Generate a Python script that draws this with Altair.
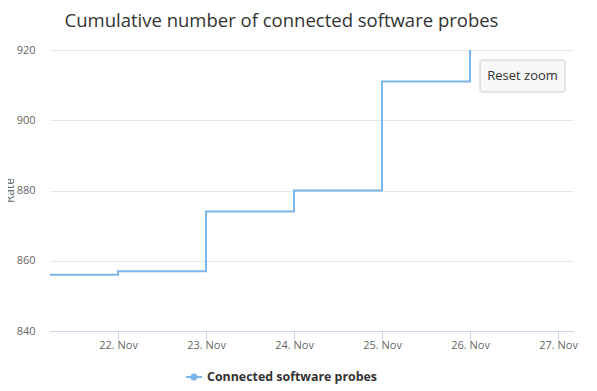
import altair as alt
import pandas as pd

# ---- data ----
dates = ["2020-11-21T00:00:00Z", "2020-11-22T00:00:00Z", "2020-11-23T00:00:00Z",
         "2020-11-24T00:00:00Z", "2020-11-25T00:00:00Z", "2020-11-26T00:00:00Z"]
probes = [856, 857, 874, 880, 911, 940]
tick_days = [22, 23, 24, 25, 26, 27]
y_ticks = [840, 860, 880, 900, 920]
title_text = "Cumulative number of connected software probes"
series_name = "Connected software probes"
y_title = "Rate"
button_label = "Reset zoom"

df = pd.DataFrame({"date": dates, "probes": probes})

FONT = "Open Sans"
W, H = 523, 281

x_scale = alt.Scale(
    type="utc",
    domain=[alt.DateTime(year=2020, month=11, date=21, hours=5, minutes=27, utc=True),
            alt.DateTime(year=2020, month=11, date=27, hours=4, minutes=5, utc=True)],
)
x_values = [alt.DateTime(year=2020, month=11, date=d, utc=True) for d in tick_days]

line = alt.Chart(df).mark_line(
    interpolate="step-after", color="#7cb5ec", strokeWidth=2, clip=True
).encode(
    x=alt.X("date:T", scale=x_scale, axis=alt.Axis(
        title=None, values=x_values, format="%d. %b", grid=False,
        labelFont=FONT, labelFontSize=11, labelColor="#666666",
        tickColor="#ccd6eb", domainColor="#ccd6eb", tickSize=10,
        labelPadding=-2, labelOverlap=False, labelFlush=False,
    )),
    y=alt.Y("probes:Q", scale=alt.Scale(domain=[840, 920], nice=False, zero=False),
            axis=alt.Axis(
                values=y_ticks, title=y_title, grid=True, gridColor="#e6e6e6",
                domain=False, ticks=False, labelPadding=15,
                labelFont=FONT, labelFontSize=11, labelColor="#666666",
                titleFont=FONT, titleFontSize=12, titleColor="#666666",
                titleFontWeight="normal", titleX=-37, titleY=140,
                titleBaseline="alphabetic",
            )),
)

one = pd.DataFrame({"k": [0]})

title = alt.Chart(pd.DataFrame({"t": [title_text]})).mark_text(
    font=FONT, fontSize=18.5, color="#333333", align="center", baseline="middle"
).encode(x=alt.value(231.5), y=alt.value(-29), text="t:N")

leg_line = alt.Chart(one).mark_rule(color="#7cb5ec", strokeWidth=2).encode(
    x=alt.value(136), x2=alt.value(152), y=alt.value(327))
leg_dot = alt.Chart(one).mark_point(filled=True, color="#7cb5ec", size=50, opacity=1, shape="circle").encode(
    x=alt.value(144), y=alt.value(327))
leg_text = alt.Chart(pd.DataFrame({"t": [series_name]})).mark_text(
    font=FONT, fontSize=12.4, fontWeight="bold", color="#333333", align="left", baseline="middle"
).encode(x=alt.value(157), y=alt.value(327), text="t:N")

btn = alt.Chart(one).mark_rect(fill="#f7f7f7", stroke="#cccccc", strokeWidth=1, cornerRadius=2).encode(
    x=alt.value(430), x2=alt.value(515), y=alt.value(10), y2=alt.value(42))
btn_text = alt.Chart(pd.DataFrame({"t": [button_label]})).mark_text(
    font=FONT, fontSize=13, color="#333333", align="center", baseline="middle"
).encode(x=alt.value(472.5), y=alt.value(26), text="t:N")

chart = alt.layer(line, title, leg_line, leg_dot, leg_text, btn, btn_text).properties(
    width=W, height=H,
    autosize=alt.AutoSizeParams(type="none"),
    padding={"left": 42, "top": 42, "right": 16, "bottom": 58},
).configure_view(stroke=None)

chart.save("out.html", embed_options={"renderer": "svg", "actions": False})
